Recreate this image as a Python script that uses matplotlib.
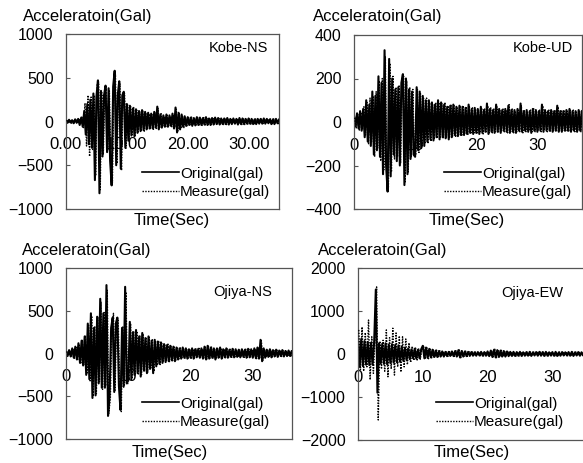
import numpy as np
import matplotlib
matplotlib.use('Agg')
import matplotlib.pyplot as plt
from matplotlib.transforms import offset_copy

plt.rcParams['font.family'] = ['Liberation Sans', 'DejaVu Sans']

W, H = 583, 463
DT = 0.25  # 波形の読み取り間隔 (sec)

# ---- Kobe-NS ----
kobe_ns_orig = [
    10, -15, 20, -10, 15, -20, 25, -15,
    30, -40, 45, -60, 120, -150, 200, -260,
    250, -300, 320, -670, 280, 470, -820, 350,
    -400, 300, 410, -350, 380, -450, -730, 400,
    580, -500, 300, 460, -540, 300, 340, -300,
    200, -220, 180, -160, 150, -170, 140, -130,
    120, -110, 130, -100, 110, -90, 100, -80,
    90, -80, 110, -70, 170, -90, 80, -70,
    70, -60, 80, -60, 70, -50, 90, -80,
    160, -125, 100, -90, 80, -60, 60, -50,
    50, -40, 45, -50, 40, -45, 50, -40,
    45, -40, 40, -35, 50, -40, 35, -40,
    40, -35, 45, -30, 40, -35, 35, -30,
    35, -30, 40, -35, 30, -30, 35, -25,
    30, -35, 40, -30, 35, -30, 30, -25,
    35, -25, 30, -30, 25, -30, 30, -25,
    30, -25, 35, -25, 30, -20, 25, -30,
    25, -30, 30, -20, 25, -25, 30, -20,
    25, -20, 20, -25, 25, -20, 20, -20,
]
kobe_ns_meas = [
    15, -10, 15, -20, 10, -15, 20, -20,
    35, -30, 50, -70, 210, -280, 300, -400,
    280, -320, 300, -620, 420, 450, -780, 330,
    -380, 320, 380, -330, 350, -460, -700, 380,
    540, -480, 320, 430, -560, 280, 320, -280,
    190, -200, 170, -150, 160, -160, 130, -120,
    110, -100, 120, -110, 100, -90, 90, -80,
    80, -90, 100, -80, 150, -80, 90, -60,
    60, -70, 70, -50, 60, -60, 80, -70,
    140, -110, 90, -80, 70, -70, 50, -50,
    45, -45, 50, -40, 45, -40, 45, -45,
    40, -45, 45, -40, 45, -35, 40, -35,
    45, -30, 40, -35, 35, -40, 30, -35,
    30, -35, 35, -30, 35, -25, 30, -30,
    35, -30, 35, -35, 30, -35, 25, -30,
    30, -30, 25, -35, 30, -25, 35, -20,
    25, -30, 30, -25, 35, -25, 30, -25,
    30, -25, 25, -25, 30, -20, 25, -25,
    20, -25, 25, -20, 20, -25, 25, -20,
]

# ---- Kobe-UD ----
kobe_ud_orig = [
    30, -20, 40, -30, 50, -40, 60, -70,
    100, -90, 80, -110, 140, -150, 120, -130,
    210, -160, 180, -240, 330, -200, -320, 290,
    -250, 200, -150, 150, -180, 160, -200, 180,
    220, -290, 200, -240, 150, -170, 140, -150,
    -160, 160, -130, 140, -120, 120, -110, 100,
    -90, 100, -80, 90, -85, 80, -70, 100,
    -80, 90, -70, 80, -75, 70, -80, 75,
    -70, 80, -60, 70, -65, 75, -60, 70,
    -60, 65, -55, 80, -50, 60, -55, 65,
    -50, 60, -55, 70, -50, 55, -45, 85,
    -55, 60, -45, 55, -50, 80, -45, 60,
    -50, 55, -40, 60, -45, 75, -50, 55,
    -45, 55, -50, 60, -40, 85, -45, 50,
    -40, 55, -45, 50, -50, 60, -40, 55,
    -45, 50, -40, 80, -45, 55, -40, 50,
    -40, 55, -45, 50, -40, 75, -45, 50,
    -45, 50, -40, 55, -40, 60, -45, 50,
    -40, 50, -45, 55, -40, 50, -40, 45,
]
kobe_ud_meas = [
    20, -30, 35, -40, 45, -35, 70, -60,
    90, -100, 110, -90, 120, -160, 140, -120,
    190, -180, 200, -220, 300, -230, -300, 270,
    -230, 210, -170, 160, -160, 170, -190, 170,
    210, -280, 190, -230, 160, -160, 150, -140,
    -150, 150, -140, 130, -110, 110, -100, 110,
    -100, 90, -90, 80, -80, 90, -75, 90,
    -70, 85, -75, 90, -70, 75, -70, 80,
    -65, 75, -70, 65, -60, 70, -65, 75,
    -55, 70, -60, 75, -55, 65, -50, 60,
    -55, 55, -50, 65, -55, 60, -50, 75,
    -50, 65, -50, 60, -45, 70, -50, 55,
    -45, 60, -50, 55, -50, 80, -45, 60,
    -50, 50, -45, 55, -45, 75, -50, 55,
    -45, 50, -40, 55, -45, 65, -45, 50,
    -40, 55, -45, 75, -40, 50, -45, 55,
    -45, 50, -40, 55, -45, 70, -40, 55,
    -40, 55, -45, 50, -45, 55, -40, 55,
    -45, 45, -40, 50, -45, 55, -40, 50,
]

# ---- Ojiya-NS ----
ojiya_ns_orig = [
    20, -30, 40, -35, 60, -50, 80, -70,
    120, -110, 150, -140, 200, -250, 350, -300,
    470, -520, 300, -490, 430, -350, 640, -400,
    470, -400, 800, -730, -500, 300, 420, -450,
    350, 420, -380, -660, 300, -390, 780, -350,
    -310, 370, -300, 250, -250, 275, -230, 200,
    -270, 240, -200, 180, -230, 200, -180, 150,
    -230, 160, -150, 140, -120, 130, -110, 110,
    -100, 100, -90, 90, -80, 80, -90, 70,
    -70, 60, -60, 70, -50, 60, -60, 50,
    -50, 60, -60, 50, -45, 55, -50, 60,
    -60, 80, -70, 90, -60, 70, -50, 60,
    -70, 60, -50, 70, -60, 50, -45, 60,
    -50, 45, -40, 55, -45, 50, -40, 45,
    -45, 50, -40, 45, -50, 55, -45, 50,
    -50, 60, -55, 70, -60, 160, -90, 60,
    -50, 45, -40, 50, -45, 40, -35, 45,
    -40, 35, -30, 40, -35, 30, -30, 35,
    -30, 30, -25, 30, -30, 25, -25, 30,
]
ojiya_ns_meas = [
    25, -25, 35, -40, 55, -55, 70, -80,
    110, -120, 160, -130, 210, -240, 330, -320,
    440, -500, 320, -470, 430, -330, 600, -420,
    480, -380, 740, -700, -520, 320, 470, -430,
    360, 400, -360, -680, 320, -370, 720, -360,
    -300, 350, -280, 260, -240, 260, -240, 210,
    -250, 230, -210, 190, -220, 190, -170, 160,
    -210, 150, -140, 150, -130, 120, -100, 100,
    -90, 110, -95, 85, -85, 75, -80, 75,
    -65, 65, -55, 65, -55, 55, -55, 55,
    -55, 55, -55, 55, -50, 60, -45, 55,
    -55, 75, -65, 85, -55, 75, -55, 55,
    -65, 55, -55, 65, -55, 55, -50, 55,
    -45, 50, -45, 50, -40, 45, -45, 40,
    -40, 45, -45, 50, -45, 50, -40, 45,
    -45, 55, -60, 65, -55, 150, -80, 55,
    -45, 50, -45, 45, -40, 45, -40, 40,
    -35, 40, -35, 35, -30, 35, -35, 30,
    -35, 25, -30, 25, -25, 30, -30, 25,
]

# ---- Ojiya-EW ----
ojiya_ew_orig = [
    400, -300, 350, -280, 300, -250, 280, -260,
    260, -250, 300, 1500, -900, 250, -220, 240,
    -230, 250, -240, 220, -210, 230, -200, 210,
    -190, 200, -180, 170, -160, 150, -140, 130,
    -120, 110, -100, 120, -110, 100, -100, 110,
    190, -100, 150, -90, 120, -80, 100, -70,
    80, -70, 70, -60, 60, -60, 50, -50,
    50, -45, 60, -50, 70, -60, 90, -80,
    70, -60, 60, -50, 50, -45, 45, -40,
    40, -40, 45, -35, 50, -40, 45, -40,
    60, -50, 80, -70, 100, -80, 90, -70,
    80, -60, 70, -60, 60, -50, 50, -45,
    50, -45, 45, -40, 50, -45, 40, -40,
    45, -40, 50, -45, 40, -35, 45, -40,
    50, -40, 45, -45, 50, -40, 40, -35,
    45, -40, 50, -45, 40, -40, 45, -35,
    40, -35, 45, -40, 50, -45, 40, -35,
    45, -40, 40, -35, 45, -40, 40, -35,
    40, -35, 35, -30, 40, -35, 35, -30,
]
ojiya_ew_meas = [
    560, -370, 630, -400, 500, -300, 790, -600,
    400, -450, 350, 1560, -1535, 300, -350, 320,
    -400, 560, -530, 380, -350, 600, -490, 490,
    -300, 420, -420, 400, -300, 350, -250, 260,
    -200, 180, -150, 160, -140, 130, -120, 130,
    200, -120, 160, -110, 130, -90, 110, -80,
    90, -80, 75, -65, 65, -55, 55, -55,
    55, -50, 55, -55, 75, -65, 95, -85,
    65, -55, 65, -55, 55, -40, 50, -45,
    45, -35, 40, -40, 45, -45, 50, -35,
    55, -55, 85, -65, 110, -85, 95, -75,
    85, -65, 75, -55, 65, -55, 55, -40,
    45, -50, 50, -45, 45, -40, 45, -35,
    40, -45, 45, -40, 45, -40, 40, -45,
    45, -45, 40, -40, 45, -45, 45, -40,
    40, -45, 45, -40, 45, -35, 40, -40,
    45, -40, 40, -35, 45, -40, 45, -40,
    40, -35, 45, -40, 40, -35, 45, -40,
    35, -40, 40, -35, 35, -30, 40, -35,
]

panels = [
    dict(name='Kobe-NS', orig=kobe_ns_orig, meas=kobe_ns_meas,
         rect=(66, 34, 279, 209), xmax=35.0, ymax=1000,
         xticks=[0, 10, 20, 30], xfmt='{:.2f}',
         name_xy=(268, 48), leg_xy=(142, 183),
         ylab_xy=(23, 17), xlab_xy=(172, 220)),
    dict(name='Kobe-UD', orig=kobe_ud_orig, meas=kobe_ud_meas,
         rect=(354, 35, 582, 209), xmax=37.3, ymax=400,
         xticks=[0, 10, 20, 30], xfmt='{:.0f}',
         name_xy=(573, 48), leg_xy=(444, 183),
         ylab_xy=(313, 17), xlab_xy=(467, 220)),
    dict(name='Ojiya-NS', orig=ojiya_ns_orig, meas=ojiya_ns_meas,
         rect=(66, 268, 292, 439), xmax=36.3, ymax=1000,
         xticks=[0, 10, 20, 30], xfmt='{:.0f}',
         name_xy=(272, 292), leg_xy=(142, 413),
         ylab_xy=(22, 251), xlab_xy=(170, 452)),
    dict(name='Ojiya-EW', orig=ojiya_ew_orig, meas=ojiya_ew_meas,
         rect=(358, 268, 588, 440), xmax=35.5, ymax=2000,
         xticks=[0, 10, 20, 30], xfmt='{:.0f}',
         name_xy=(563, 293), leg_xy=(436, 413),
         ylab_xy=(318, 251), xlab_xy=(472, 452)),
]

fig = plt.figure(figsize=(W / 100, H / 100), dpi=100)
fig.patch.set_facecolor('white')


def fx(x):
    return x / W


def fy(y):
    return 1 - y / H


for p in panels:
    l, t, r, b = p['rect']
    ax = fig.add_axes([fx(l), fy(b), (r - l) / W, (b - t) / H])

    orig = np.array(p['orig'], dtype=float)
    meas = np.array(p['meas'], dtype=float)
    t_orig = np.arange(len(orig)) * DT
    t_meas = np.arange(len(meas)) * DT + DT / 2

    # 波形
    ax.plot(t_orig, orig, color='black', linewidth=1.5,
            label='Original(gal)', zorder=2)
    ax.plot(t_meas, meas, color='black', linewidth=1.0,
            linestyle=(0, (1, 1)), label='Measure(gal)', zorder=3)

    ymax = p['ymax']
    ax.set_xlim(0, p['xmax'])
    ax.set_ylim(-ymax, ymax)
    ax.set_yticks([-ymax, -ymax // 2, 0, ymax // 2, ymax])
    ax.tick_params(axis='y', direction='in', length=3, width=0.8,
                   color='#555', pad=9, labelsize=11.5)
    ax.set_xticks([])

    for sp in ax.spines.values():
        sp.set_color('#555')
        sp.set_linewidth(0.9)

    # X軸目盛ラベル (y=0 の下)
    tr = offset_copy(ax.transData, fig=fig, y=-23, units='dots')
    for xt in p['xticks']:
        ax.text(xt, 0, p['xfmt'].format(xt), transform=tr,
                ha='center', va='center', fontsize=12, zorder=1)

    # 波形名
    fig.text(fx(p['name_xy'][0]), fy(p['name_xy'][1]), p['name'],
             ha='right', va='center', fontsize=10.5)

    # 軸タイトル
    fig.text(fx(p['ylab_xy'][0]), fy(p['ylab_xy'][1]), 'Acceleratoin(Gal)',
             ha='left', va='center', fontsize=12)
    fig.text(fx(p['xlab_xy'][0]), fy(p['xlab_xy'][1]), 'Time(Sec)',
             ha='center', va='center', fontsize=12)

    # 凡例
    leg = ax.legend(loc='center left',
                    bbox_to_anchor=(fx(p['leg_xy'][0]), fy(p['leg_xy'][1])),
                    bbox_transform=fig.transFigure,
                    frameon=False, fontsize=11, handlelength=2.4,
                    handletextpad=0.1, labelspacing=0.3, borderpad=0,
                    borderaxespad=0)
    leg.get_lines()[0].set_linewidth(1.2)

fig.savefig('out.png', dpi=100)
